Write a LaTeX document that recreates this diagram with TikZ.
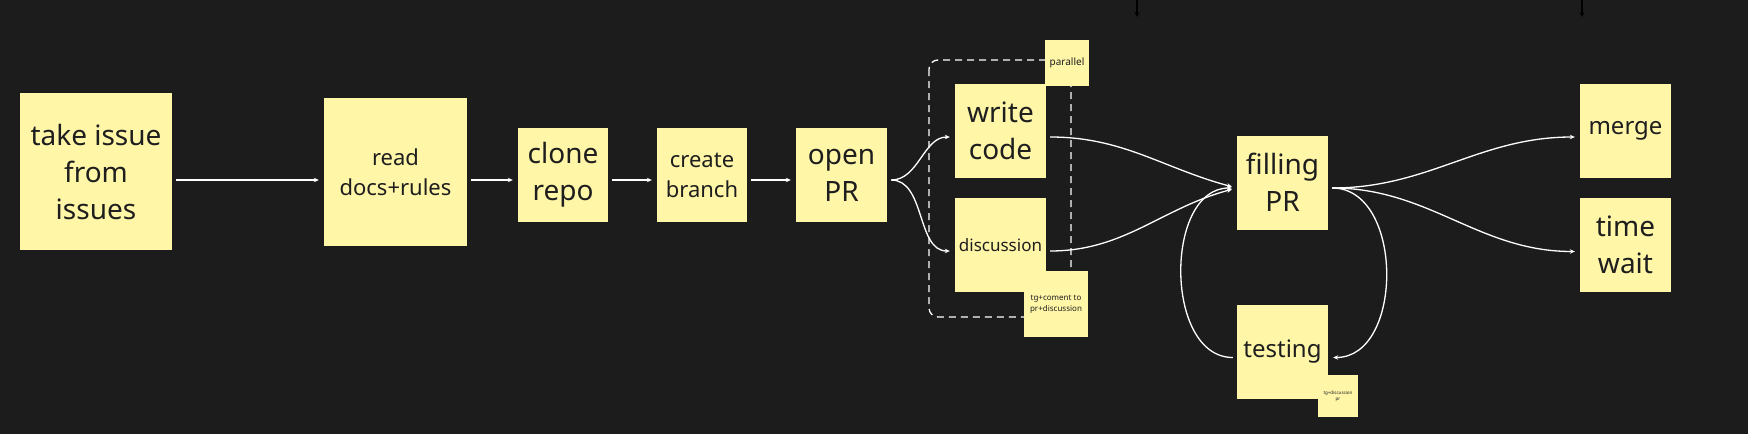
\documentclass[tikz,border=0pt]{standalone}
\usepackage{fontspec}
\setmainfont{Noto Sans}
\usetikzlibrary{arrows.meta}
\definecolor{board}{HTML}{1C1C1C}
\definecolor{sticky}{HTML}{FFF6A8}
\definecolor{ink}{HTML}{1E1E1E}
\definecolor{pin}{HTML}{4A4A4A}
\tikzset{
  note/.style={fill=sticky,text=ink,inner sep=0pt,align=center,minimum width=91pt,minimum height=94pt},
  link/.style={draw=white,line width=1.3pt,-{Stealth[length=5pt,width=4.5pt]},shorten <=4pt,shorten >=5pt},
  frame/.style={draw=white,line width=1.3pt,dash pattern=on 7pt off 5pt,rounded corners=9pt}
}
\begin{document}
\begin{tikzpicture}[x=1pt,y=-1pt]
    \providecommand{\bigsize}{\fontsize{28}{37}\selectfont}
    \providecommand{\midsize}{\fontsize{22}{30}\selectfont}
    \providecommand{\notesize}{\fontsize{24}{30}\selectfont}
    \providecommand{\smallsize}{\fontsize{17}{22}\selectfont}
    \providecommand{\tagsize}{\fontsize{10}{12}\selectfont}
    \providecommand{\tinysize}{\fontsize{8}{11}\selectfont}
    \providecommand{\scrapsize}{\fontsize{4.5}{6}\selectfont}
    \fill[board] (0,0) rectangle (1748,434);
    \useasboundingbox (0,0) rectangle (1748,434);
    % incoming arrows from above
    \coordinate (inA) at (1137,0);
    \coordinate (inB) at (1582,0);
    \coordinate (inAend) at (1137,17);
    \coordinate (inBend) at (1582,17);
    \draw[pin,line width=1.3pt,-{Stealth[length=5pt,width=5pt]}] (inA) -- (inAend);
    \draw[pin,line width=1.3pt,-{Stealth[length=5pt,width=5pt]}] (inB) -- (inBend);
    % parallel block
    \draw[frame] (929,60) rectangle (1071,317);
    \node[note,font=\bigsize,minimum width=152pt,minimum height=157pt](take) at (96,171.5){take issue\\from\\issues};
    \node[note,font=\midsize,minimum width=143pt,minimum height=148pt](read) at (395.5,172){read\\docs+rules};
    \node[note,font=\bigsize,minimum width=90pt](clone) at (563,175){clone\\repo};
    \node[note,font=\midsize,minimum width=90pt](branch) at (702,175){create\\branch};
    \node[note,font=\bigsize](open) at (841.5,175){open\\PR};
    \node[note,font=\bigsize](write) at (1000.5,131){write\\code};
    \node[note,font=\smallsize](disc) at (1000.5,245){discussion};
    \node[note,font=\tagsize,minimum width=44pt,minimum height=46pt](par) at (1067,63){parallel};
    \node[note,font=\tinysize,minimum width=64pt,minimum height=66pt](tg) at (1056,304){tg+coment to\\pr+discussion};
    \node[note,font=\bigsize](filling) at (1282.5,182.5){filling\\PR};
    \node[note,font=\notesize](testing) at (1282.5,351.5){testing};
    \node[note,font=\scrapsize,minimum width=40pt,minimum height=42pt](scrap) at (1338,396){tg+discussion\\pr};
    \node[note,font=\notesize](merge) at (1625.5,131){merge};
    \node[note,font=\bigsize](wait) at (1625.5,245){time\\wait};
    % main chain
    \coordinate (row) at (0,180);
    \draw[link] (take.east |- row) -- (read.west |- row);
    \draw[link] (read.east |- row) -- (clone.west |- row);
    \draw[link] (clone.east |- row) -- (branch.west |- row);
    \draw[link] (branch.east |- row) -- (open.west |- row);
    \draw[link] (open.east |- row) to[out=0,in=180] ([yshift=-6pt]write.west);
    \draw[link] (open.east |- row) to[out=0,in=180] ([yshift=-6pt]disc.west);
    \draw[link] ([yshift=-6pt]write.east) to[out=0,in=165] ([yshift=-5.5pt]filling.west);
    \draw[link] ([yshift=-6pt]disc.east) to[out=0,in=195] ([yshift=-5.5pt]filling.west);
    % test loop
    \draw[link] ([yshift=-5.5pt]filling.east) to[out=0,in=0,looseness=1.15] ([yshift=-6pt]testing.east);
    \draw[link] ([yshift=-6pt]testing.west) to[out=180,in=180,looseness=1.1] ([yshift=-5.5pt]filling.west);
    \draw[link] ([yshift=-5.5pt]filling.east) to[out=0,in=180] ([yshift=-6pt]merge.west);
    \draw[link] ([yshift=-5.5pt]filling.east) to[out=0,in=180] ([yshift=-6.5pt]wait.west);
\end{tikzpicture}
\end{document}
